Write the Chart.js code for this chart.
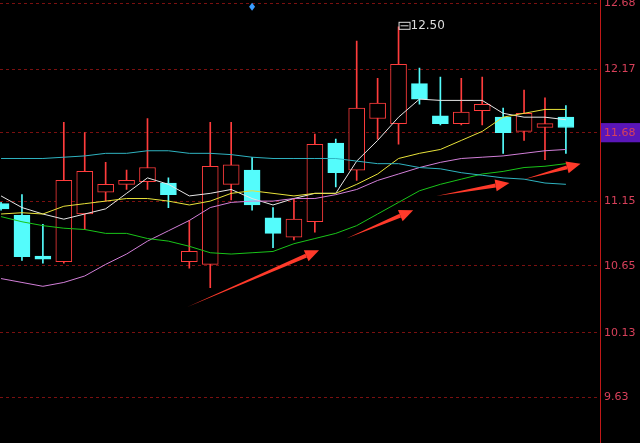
<!DOCTYPE html>
<html><head><meta charset="utf-8">
<script src="https://cdn.jsdelivr.net/npm/chart.js@4/dist/chart.umd.min.js"></script>
<style>html,body{margin:0;padding:0;background:#000;overflow:hidden;}#w{width:640px;height:463px;margin-top:-10px;}</style>
</head><body><div id="w"><canvas id="c"></canvas></div>
<script>
const openP  = [11.13,11.04,10.72,10.68,11.05,11.22,11.28,11.30,11.29,10.68,10.66,11.28,11.39,11.02,10.87,10.99,11.60,11.39,11.79,11.75,12.06,11.81,11.75,11.85,11.80,11.69,11.72,11.80];
const highP  = [11.14,11.20,10.97,11.76,11.68,11.45,11.39,11.79,11.33,11.00,11.76,11.76,11.49,11.10,11.17,11.67,11.63,12.39,12.10,12.50,12.18,12.11,12.10,12.11,11.87,12.01,11.95,11.89];
const lowP   = [11.08,10.69,10.67,10.67,10.93,11.15,11.24,11.24,11.10,10.63,10.48,11.16,11.08,10.79,10.85,10.91,11.26,11.31,11.63,11.59,11.90,11.74,11.74,11.74,11.52,11.62,11.47,11.52];
const closeP = [11.09,10.72,10.70,11.31,11.38,11.28,11.31,11.41,11.20,10.76,11.42,11.43,11.12,10.90,11.01,11.59,11.37,11.87,11.91,12.21,11.94,11.75,11.84,11.90,11.68,11.83,11.75,11.72];
const ma5   = [11.19,11.10,11.05,11.01,11.05,11.09,11.21,11.33,11.28,11.19,11.21,11.24,11.17,11.12,11.17,11.21,11.21,11.46,11.62,11.80,11.94,11.93,11.93,11.93,11.83,11.80,11.80,11.78];
const ma10  = [11.05,11.06,11.05,11.11,11.13,11.15,11.17,11.17,11.15,11.12,11.15,11.21,11.23,11.21,11.19,11.21,11.21,11.28,11.36,11.48,11.52,11.55,11.62,11.69,11.80,11.83,11.86,11.86];
const ma20  = [10.55,10.52,10.49,10.52,10.57,10.66,10.74,10.84,10.92,11.00,11.10,11.14,11.15,11.15,11.17,11.17,11.20,11.24,11.31,11.36,11.41,11.45,11.48,11.49,11.50,11.52,11.54,11.55];
const ma30  = [11.03,10.99,10.96,10.94,10.93,10.90,10.90,10.86,10.84,10.80,10.75,10.74,10.75,10.76,10.82,10.86,10.90,10.96,11.05,11.14,11.23,11.28,11.32,11.36,11.38,11.41,11.42,11.44];
const ma60  = [11.48,11.48,11.48,11.49,11.50,11.52,11.52,11.54,11.54,11.52,11.52,11.51,11.49,11.48,11.48,11.48,11.48,11.46,11.44,11.44,11.41,11.40,11.37,11.35,11.33,11.32,11.29,11.28];
const tickVals = [12.68,12.17,11.68,11.15,10.65,10.13,9.63];
// annotation arrows: [x0,y0,x1,y1] in (index, price)
const arrows = [[8.9,10.33,15.2,10.77],[16.5,10.86,19.7,11.08],[20.8,11.19,24.3,11.29],[25.0,11.32,27.7,11.44]];

const idx = openP.map((_,i)=>i);
const up = i => closeP[i] >= openP[i];
const RED='#ff3c3c', CY='#54fcfc';
const line=(d,c)=>({type:'line',data:d.map((v,i)=>({x:i,y:v})),borderColor:c,borderWidth:1,pointRadius:0,tension:0,order:0});

const arrowPlugin={id:'arr',afterDatasetsDraw(ch){
  const {ctx,scales:{x,y}}=ch; ctx.save();
  ctx.strokeStyle='#ff3a2a'; ctx.fillStyle='#ff3a2a';
  arrows.forEach(a=>{
    const x0=x.getPixelForValue(a[0]),y0=y.getPixelForValue(a[1]),x1=x.getPixelForValue(a[2]),y1=y.getPixelForValue(a[3]);
    const ang=Math.atan2(y1-y0,x1-x0);
    const hx=x1-14*Math.cos(ang),hy=y1-14*Math.sin(ang);
    ctx.beginPath();ctx.moveTo(x0,y0);
    ctx.lineTo(hx-2*Math.sin(ang),hy+2*Math.cos(ang));ctx.lineTo(hx+2*Math.sin(ang),hy-2*Math.cos(ang));ctx.closePath();ctx.fill();
    ctx.beginPath();ctx.moveTo(x1,y1);
    ctx.lineTo(hx-6*Math.sin(ang),hy+6*Math.cos(ang));ctx.lineTo(hx+6*Math.sin(ang),hy-6*Math.cos(ang));ctx.closePath();ctx.fill();
  });
  const mi=highP.indexOf(Math.max(...highP));
  const px=x.getPixelForValue(mi), py=y.getPixelForValue(highP[mi]);
  ctx.strokeStyle='#ddd';ctx.lineWidth=1;ctx.strokeRect(px+0.5,py-4.5,11,7);
  ctx.beginPath();ctx.moveTo(px+2,py-1);ctx.lineTo(px+10,py-1);ctx.stroke();
  ctx.fillStyle='#ddd';ctx.font='12px "DejaVu Sans"';ctx.textBaseline='middle';
  ctx.fillText(highP[mi].toFixed(2),px+12,py-1);
  ctx.fillStyle='#3a9cff';const dx=x.getPixelForValue(12),dy=y.getPixelForValue(12.655);
  ctx.beginPath();ctx.moveTo(dx,dy-4);ctx.lineTo(dx+3,dy);ctx.lineTo(dx,dy+4);ctx.lineTo(dx-3,dy);ctx.closePath();ctx.fill();
  ctx.restore();
}};

new Chart(document.getElementById('c'),{
  data:{datasets:[
    {type:'bar',data:idx.map(i=>({x:i,y:[lowP[i],highP[i]]})),backgroundColor:idx.map(i=>up(i)?RED:CY),barThickness:1,grouped:false,order:3},
    {type:'bar',data:idx.map(i=>({x:i,y:[openP[i],closeP[i]]})),backgroundColor:idx.map(i=>up(i)?'#000':CY),borderColor:idx.map(i=>up(i)?RED:CY),borderWidth:1,borderSkipped:false,barThickness:16,minBarLength:3,grouped:false,order:2},
    line(ma60,'#2fb3c0'),line(ma30,'#19c419'),line(ma20,'#d27fd8'),line(ma10,'#e8e23a'),line(ma5,'#e6e6e6')
  ]},
  options:{responsive:true,maintainAspectRatio:false,animation:false,
    layout:{padding:0},
    plugins:{legend:{display:false},tooltip:{enabled:false}},
    scales:{
      x:{type:'linear',min:-0.05,max:28.63,display:false,offset:false},
      y:{position:'right',min:9.281,max:12.703,
        afterBuildTicks:s=>{s.ticks=tickVals.map(v=>({value:v}));},
        afterFit:s=>{s.width=40;},
        border:{display:true,color:'#c01818',width:1,dash:[3,3]},
        grid:{color:'#7a1010',lineWidth:1,drawTicks:false},
        ticks:{color:'#d8405a',font:{family:'DejaVu Sans',size:11},padding:4,
          callback:v=>v.toFixed(2),
          showLabelBackdrop:c=>c.tick.value===11.68,backdropColor:'#5a16b8',backdropPadding:{top:3,bottom:3,left:3,right:10}}
      }
    }
  },
  plugins:[arrowPlugin,{id:'bg',beforeDraw(ch){const c=ch.ctx;c.save();c.fillStyle='#000';c.fillRect(0,0,ch.width,ch.height);c.restore();}}]
});
</script></body></html>
